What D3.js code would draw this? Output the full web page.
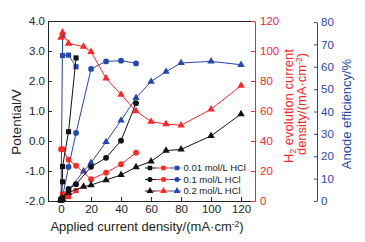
<!DOCTYPE html>
<html>
<head>
<meta charset="utf-8">
<script src="https://cdn.jsdelivr.net/npm/d3@7"></script>
<style>
  body { margin: 0; background: #fff; }
  svg { display: block; font-family: "Liberation Sans", Arial, sans-serif; }
</style>
</head>
<body>
<div id="chart"></div>
<script>
// applied current density (x) for each concentration
const current001 = [0, 1, 1, 5, 10];
const current01 = [0, 1, 5, 10, 20, 30, 40, 50];
const current02 = [0, 1, 5, 15, 20, 30, 40, 50, 60, 70, 80, 100, 120];

// potential / V (left axis, black)
const potential001 = [-1.97, -1.36, -0.85, 0.31, 2.77];
const potential01 = [-1.95, -1.9, -1.6, -1.44, -0.86, -0.56, 0.01, 1.26];
const potential02 = [-1.98, -1.93, -1.72, -1.52, -1.47, -1.30, -1.13, -0.87, -0.68, -0.32, -0.28, 0.17, 0.9];

// H2 evolution current density (red axis)
const h2_001 = [0.5, 3.5, 4.6, 2.9, 6.9];
const h2_01 = [34.5, 34.5, 27.5, 23.5, 14.5, 18.9, 24.5, 32.2];
const h2_02 = [109, 112.5, 105, 103, 99.5, 81.8, 71, 60, 52.9, 51.3, 50.5, 61.1, 76.9];

// anode efficiency / % (blue axis)
const eff001 = [0.5, 74, 65, 65.2, 60];
const eff01 = [1, 2, 15.2, 30.4, 59, 62.4, 62.7, 61.5];
const eff02 = [1, 2, 4.9, 13.3, 17.1, 26.4, 36, 46.1, 53.4, 57.8, 61.7, 62.4, 60.9];

const legendLabels = ["0.01 mol/L HCl", "0.1 mol/L HCl", "0.2 mol/L HCl"];
const xTicks = [0, 20, 40, 60, 80, 100, 120];
const potTicks = [-2, -1, 0, 1, 2, 3, 4];
const h2Ticks = [0, 20, 40, 60, 80, 100, 120];
const effTicks = [0, 10, 20, 30, 40, 50, 60, 70, 80];

function drawChart() {
    let win_width = 365, win_height = 242;
    let m = {left: 48, right: 255, top: 21, bottom: 201};

    let black = "#111", red = "#ff2626", blue = "#2447b0";

    let svg = d3.select("#chart").append("svg")
        .attr("width", win_width)
        .attr("height", win_height);

    let x = d3.scaleLinear().domain([-8.7, 129.3]).range([m.left, m.right]);
    let yPot = d3.scaleLinear().domain([-2, 4]).range([m.bottom, m.top]);
    let yH2 = d3.scaleLinear().domain([0, 120]).range([m.bottom, m.top]);
    let yEff = d3.scaleLinear().domain([0, 80]).range([m.bottom, 22]);

    // top border
    svg.append("line")
        .attr("x1", m.left).attr("x2", m.right)
        .attr("y1", m.top + 0.5).attr("y2", m.top + 0.5)
        .attr("stroke", "#222");

    // axes
    let styleAxis = function(g, col) {
        g.selectAll("path").attr("stroke", col);
        g.selectAll("line").attr("stroke", col);
        g.selectAll("text").attr("fill", col).style("font-size", "11.5px")
            .style("font-family", "'Liberation Sans', Arial, sans-serif");
    };

    svg.append("g")
        .attr("transform", "translate(" + m.left + ",0)")
        .call(d3.axisLeft(yPot).tickValues(potTicks).tickSize(-4).tickSizeOuter(0).tickPadding(3)
            .tickFormat(d => d.toFixed(1)))
        .call(g => styleAxis(g, "#222"));

    svg.append("g")
        .attr("transform", "translate(0," + m.bottom + ")")
        .call(d3.axisBottom(x).tickValues(xTicks).tickSize(-4).tickSizeOuter(0).tickPadding(4))
        .call(g => styleAxis(g, "#222"));

    svg.append("g")
        .attr("transform", "translate(" + m.right + ",0)")
        .call(d3.axisRight(yH2).tickValues(h2Ticks).tickSize(-4).tickSizeOuter(0).tickPadding(5))
        .call(g => styleAxis(g, red));

    svg.append("g")
        .attr("transform", "translate(317,0)")
        .call(d3.axisRight(yEff).tickValues(effTicks).tickSize(-3).tickSizeOuter(0).tickPadding(4))
        .call(g => styleAxis(g, blue));

    // series
    let series = [
        {xs: current001, ys: eff001, y: yEff, col: blue, sym: d3.symbolSquare, size: 26},
        {xs: current01, ys: eff01, y: yEff, col: blue, sym: d3.symbolCircle, size: 26},
        {xs: current02, ys: eff02, y: yEff, col: blue, sym: d3.symbolTriangle, size: 24},
        {xs: current001, ys: h2_001, y: yH2, col: red, sym: d3.symbolSquare, size: 26},
        {xs: current01, ys: h2_01, y: yH2, col: red, sym: d3.symbolCircle, size: 26},
        {xs: current02, ys: h2_02, y: yH2, col: red, sym: d3.symbolTriangle, size: 24},
        {xs: current001, ys: potential001, y: yPot, col: black, sym: d3.symbolSquare, size: 26},
        {xs: current01, ys: potential01, y: yPot, col: black, sym: d3.symbolCircle, size: 26},
        {xs: current02, ys: potential02, y: yPot, col: black, sym: d3.symbolTriangle, size: 24}
    ];

    series.forEach(function(s) {
        let pts = s.xs.map((v, i) => [x(v), s.y(s.ys[i])]);
        svg.append("path")
            .attr("d", d3.line()(pts))
            .attr("fill", "none")
            .attr("stroke", s.col)
            .attr("stroke-width", 1);
        svg.append("g").selectAll("path")
            .data(pts)
            .join("path")
            .attr("transform", d => "translate(" + d[0] + "," + d[1] + ")")
            .attr("d", d3.symbol().type(s.sym).size(s.size))
            .attr("fill", s.col);
    });

    // legend
    let legendSyms = [d3.symbolSquare, d3.symbolCircle, d3.symbolTriangle];
    let legendCols = [black, red, blue];
    let lg = svg.append("g");
    legendLabels.forEach(function(lab, i) {
        let ly = 168 + i * 11.5;
        let xs = [145, 156.5, 170, 181];
        legendCols.forEach(function(c, j) {
            lg.append("line")
                .attr("x1", xs[j]).attr("x2", xs[j + 1])
                .attr("y1", ly).attr("y2", ly)
                .attr("stroke", c);
        });
        [150, 163.5, 177].forEach(function(mx, j) {
            lg.append("path")
                .attr("transform", "translate(" + mx + "," + ly + ")")
                .attr("d", d3.symbol().type(legendSyms[i]).size(20))
                .attr("fill", legendCols[j]);
        });
        lg.append("text")
            .attr("x", 183.5).attr("y", ly + 3.3)
            .style("font-size", "9.5px")
            .attr("fill", "#222")
            .text(lab);
    });

    // axis titles
    svg.append("text")
        .attr("transform", "translate(21,122) rotate(-90)")
        .attr("text-anchor", "middle")
        .style("font-size", "13.5px")
        .attr("fill", "#222")
        .text("Potential/V");

    let xt = svg.append("text")
        .attr("x", 147).attr("y", 231)
        .attr("text-anchor", "middle")
        .style("font-size", "13px")
        .attr("fill", "#222");
    xt.append("tspan").text("Applied current density/(mA·cm");
    xt.append("tspan").attr("dy", -4.5).style("font-size", "8.5px").text("-2");
    xt.append("tspan").attr("dy", 4.5).text(")");

    let r1 = svg.append("text")
        .attr("transform", "translate(292.5,106) rotate(-90)")
        .attr("text-anchor", "middle")
        .style("font-size", "13px")
        .attr("fill", red);
    r1.append("tspan").text("H");
    r1.append("tspan").attr("dy", 3).style("font-size", "8.5px").text("2");
    r1.append("tspan").attr("dy", -3).text(" evolution current");

    let r2 = svg.append("text")
        .attr("transform", "translate(306,104) rotate(-90)")
        .attr("text-anchor", "middle")
        .style("font-size", "13px")
        .attr("fill", red);
    r2.append("tspan").text("density/(mA·cm");
    r2.append("tspan").attr("dy", -4.5).style("font-size", "8.5px").text("-2");
    r2.append("tspan").attr("dy", 4.5).text(")");

    svg.append("text")
        .attr("transform", "translate(351,114) rotate(-90)")
        .attr("text-anchor", "middle")
        .style("font-size", "13px")
        .attr("fill", blue)
        .text("Anode efficiency/%");
}

drawChart();
</script>
</body>
</html>
